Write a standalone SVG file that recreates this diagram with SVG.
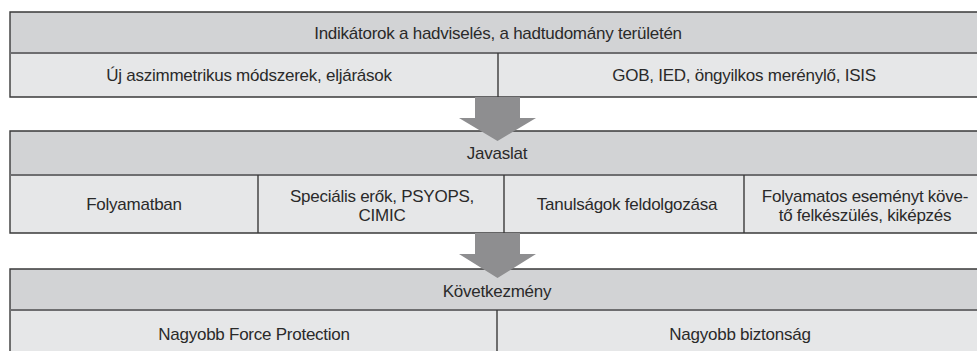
<svg xmlns="http://www.w3.org/2000/svg" width="977" height="351" viewBox="0 0 977 351">
<style>
.hd{fill:#d2d3d5}
.rw{fill:#e6e7e8}
.bd{fill:none;stroke:#3a3a3a;stroke-width:1.4}
.dv{stroke:#6e6e70;stroke-width:2}
.cl{stroke:#3a3a3a;stroke-width:1.4}
text{font-family:"Liberation Sans",Arial,sans-serif;font-size:17px;letter-spacing:-0.25px;fill:#2a2a2a;text-anchor:middle}
.ar{fill:#8e8e90}
</style>
<rect width="977" height="351" fill="#ffffff"/>
<g id="box1">
<rect class="hd" x="10" y="12" width="980" height="41"/>
<rect class="rw" x="10" y="53" width="980" height="44"/>
<path class="bd" d="M990 12H10V97H990"/>
<line class="dv" x1="10" y1="53" x2="990" y2="53"/>
<line class="cl" x1="498" y1="53" x2="498" y2="97"/>
<text x="498" y="39">Indikátorok a hadviselés, a hadtudomány területén</text>
<text x="249" y="81">Új aszimmetrikus módszerek, eljárások</text>
<text x="744" y="81">GOB, IED, öngyilkos merénylő, ISIS</text>
</g>
<g id="box2">
<rect class="hd" x="10" y="131" width="980" height="44"/>
<rect class="rw" x="10" y="175" width="980" height="58"/>
<path class="bd" d="M990 131H10V233H990"/>
<line class="dv" x1="10" y1="175" x2="990" y2="175"/>
<line class="cl" x1="258" y1="175" x2="258" y2="233"/>
<line class="cl" x1="504" y1="175" x2="504" y2="233"/>
<line class="cl" x1="744" y1="175" x2="744" y2="233"/>
<text x="497" y="159">Javaslat</text>
<text x="134" y="210">Folyamatban</text>
<text x="382" y="202">Speciális erők, PSYOPS,</text>
<text x="382" y="221">CIMIC</text>
<text x="627" y="210">Tanulságok feldolgozása</text>
<text x="865" y="202">Folyamatos eseményt köve-</text>
<text x="865" y="221">tő felkészülés, kiképzés</text>
</g>
<g id="box3">
<rect class="hd" x="10" y="269" width="980" height="41"/>
<rect class="rw" x="10" y="310" width="980" height="50"/>
<path class="bd" d="M990 269H10V360"/>
<line class="dv" x1="10" y1="310" x2="990" y2="310"/>
<line class="cl" x1="497" y1="310" x2="497" y2="360"/>
<text x="497" y="297">Következmény</text>
<text x="254" y="340">Nagyobb Force Protection</text>
<text x="740" y="340">Nagyobb biztonság</text>
</g>
<g id="connectors">
<polygon class="ar" points="475,97 520,97 520,118 536,118 497.5,141 459,118 475,118"/>
<polygon class="ar" points="475,233 520,233 520,254 536,254 497.5,278 459,254 475,254"/>
</g>
</svg>
